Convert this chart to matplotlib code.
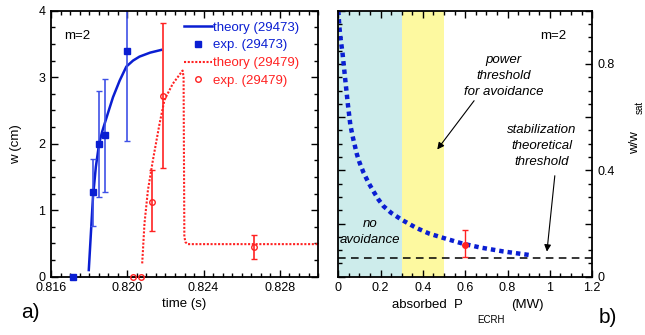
import matplotlib
matplotlib.use("Agg")
import matplotlib.pyplot as plt
from matplotlib.ticker import MultipleLocator, FuncFormatter

plt.rcParams['font.family'] = ['Liberation Sans', 'DejaVu Sans']

BLUE = '#0a1ed2'
RED = '#ff2222'

# panel a) - island width vs time
th_473_t = [0.81798, 0.81810, 0.81820, 0.81835, 0.81852, 0.81868, 0.81882, 0.81905,
            0.81925, 0.81960, 0.81995, 0.82030, 0.82064, 0.82120, 0.82177]
th_473_w = [0.10, 0.70, 1.20, 1.65, 2.00, 2.18, 2.31, 2.52, 2.70, 2.95, 3.16, 3.25,
            3.31, 3.37, 3.41]
exp_473_t = [0.81713, 0.81821, 0.81850, 0.81882, 0.82000]
exp_473_w = [0.0, 1.27, 2.00, 2.13, 3.40]
exp_473_lo = [0.0, 0.77, 1.20, 1.27, 2.04]
exp_473_hi = [0.0, 1.77, 2.79, 2.97, 4.76]

th_479_t = [0.82078, 0.82090, 0.82108, 0.82134, 0.82169, 0.82195, 0.82238, 0.82290,
            0.82295, 0.82299, 0.82305, 0.82316, 0.82400, 0.82600, 0.82800, 0.83000]
th_479_w = [0.20, 0.80, 1.30, 1.75, 2.30, 2.66, 2.90, 3.10, 3.00, 0.60, 0.52, 0.49,
            0.49, 0.49, 0.49, 0.49]
exp_479_t = [0.82030, 0.82073, 0.82130, 0.82186, 0.82664]
exp_479_w = [0.0, 0.0, 1.13, 2.72, 0.45]
exp_479_lo = [0.0, 0.0, 0.68, 1.63, 0.27]
exp_479_hi = [0.0, 0.0, 1.60, 3.82, 0.63]

# panel b) - normalized width vs absorbed ECRH power
p_ecrh = [0.0, 0.005, 0.01, 0.02, 0.033, 0.045, 0.057, 0.07, 0.088, 0.10, 0.12, 0.145,
          0.167, 0.19, 0.214, 0.25, 0.30, 0.37, 0.43, 0.50, 0.59, 0.67, 0.78, 0.90]
w_norm = [1.0, 0.94, 0.90, 0.84, 0.74, 0.65, 0.57, 0.52, 0.46, 0.43, 0.39, 0.35,
          0.32, 0.29, 0.265, 0.24, 0.214, 0.183, 0.162, 0.145, 0.124, 0.11, 0.095, 0.082]
exp_p = [0.6]
exp_w = [0.12]
exp_w_lo = [0.073]
exp_w_hi = [0.174]
stab_threshold = 0.072
no_avoid = (0.0, 0.30)
power_thr = (0.30, 0.50)

W, H = 645.0, 335.0
fig = plt.figure(figsize=(6.45, 3.35), dpi=100)
ax1 = fig.add_axes([0.0791, 0.174, 0.414, 0.794])
ax2 = fig.add_axes([0.5245, 0.174, 0.3935, 0.794])

# ---- a)
ax1.plot(th_473_t, th_473_w, color=BLUE, lw=1.8, label='theory (29473)')
ax1.errorbar(exp_473_t, exp_473_w,
             yerr=[[w - l for w, l in zip(exp_473_w, exp_473_lo)],
                   [h - w for w, h in zip(exp_473_w, exp_473_hi)]],
             fmt='none', ecolor='#3f52e6', elinewidth=1.2, capsize=2, capthick=1)
ax1.plot(exp_473_t, exp_473_w, 's', color=BLUE, ms=5, ls='none', clip_on=False,
         zorder=5, label='exp. (29473)')
ax1.plot(th_479_t, th_479_w, color=RED, lw=1.5, ls=(0, (1, 0.8)), label='theory (29479)')
ax1.errorbar(exp_479_t, exp_479_w,
             yerr=[[w - l for w, l in zip(exp_479_w, exp_479_lo)],
                   [h - w for w, h in zip(exp_479_w, exp_479_hi)]],
             fmt='none', ecolor=RED, elinewidth=1.2, capsize=2, capthick=1)
ax1.plot(exp_479_t, exp_479_w, 'o', color=RED, mfc='none', mew=1, ms=4, ls='none',
         clip_on=False, zorder=5, label='exp. (29479)')

ax1.set_xlim(0.816, 0.830)
ax1.set_ylim(0, 4)
ax1.xaxis.set_major_locator(MultipleLocator(0.004))
ax1.xaxis.set_minor_locator(MultipleLocator(0.0005))
ax1.yaxis.set_major_locator(MultipleLocator(1))
ax1.yaxis.set_minor_locator(MultipleLocator(0.25))
ax1.xaxis.set_major_formatter(FuncFormatter(lambda v, p: f'{v:.3f}'))
ax1.set_xlabel('time (s)', fontsize=9.5, labelpad=3)
ax1.set_ylabel('w (cm)', fontsize=9.5, labelpad=12)
ax1.text(0.05, 0.905, 'm=2', transform=ax1.transAxes, fontsize=9.5, va='center')
ax1.legend(loc='upper right', bbox_to_anchor=(0.93, 0.96), frameon=False, fontsize=9.5,
           labelcolor='linecolor', handlelength=2.1, handletextpad=0.1,
           labelspacing=0.42, borderaxespad=0, borderpad=0)

# ---- b)
ax2.axvspan(*no_avoid, color='#cdeceb', lw=0)
ax2.axvspan(*power_thr, color='#fdf9a0', lw=0)
ax2.axhline(stab_threshold, color='black', lw=1.1, ls=(0, (5, 3.5)))
ax2.plot(p_ecrh, w_norm, color=BLUE, lw=3.2, ls=(0, (1, 0.9)), dash_capstyle='butt')
ax2.errorbar(exp_p, exp_w,
             yerr=[[w - l for w, l in zip(exp_w, exp_w_lo)],
                   [h - w for w, h in zip(exp_w, exp_w_hi)]],
             fmt='o', color=RED, ms=4, elinewidth=1, capsize=2, capthick=1, zorder=5)

ax2.set_xlim(0, 1.2)
ax2.set_ylim(0, 1.0)
ax2.xaxis.set_major_locator(MultipleLocator(0.2))
ax2.xaxis.set_minor_locator(MultipleLocator(0.05))
ax2.yaxis.set_major_locator(MultipleLocator(0.2))
ax2.yaxis.set_minor_locator(MultipleLocator(0.05))
ax2.xaxis.set_major_formatter(FuncFormatter(lambda v, p: f'{v:g}'))
ax2.yaxis.set_major_formatter(
    FuncFormatter(lambda v, p: f'{v:g}' if round(v / 0.4, 3) % 1 == 0 and v < 0.95 else ''))
ax2.yaxis.tick_right()

# axis titles of panel b), pieced together so the subscripts sit low as in the original
fig.text(463 / W, 1 - 305 / H, 'absorbed  P', fontsize=9.5, ha='right', va='center')
fig.text(477 / W, 1 - 320 / H, 'ECRH', fontsize=7, ha='left', va='center')
fig.text(511 / W, 1 - 305 / H, '(MW)', fontsize=9.5, ha='left', va='center')
fig.text(635 / W, 1 - 143 / H, 'w/w', fontsize=9.5, rotation=90, ha='center', va='center')
fig.text(640 / W, 1 - 107 / H, 'sat', fontsize=7, rotation=90, ha='center', va='center')

ax2.text(0.90, 0.905, 'm=2', transform=ax2.transAxes, fontsize=9.5, va='center', ha='right')
ax2.text(0.78, 0.755, 'power\nthreshold\nfor avoidance', fontsize=9.5, style='italic',
         ha='center', va='center', linespacing=1.45)
ax2.annotate('', xy=(0.46, 0.47), xytext=(0.65, 0.67),
             arrowprops=dict(arrowstyle='-|>', color='black', lw=0.8, mutation_scale=10))
ax2.text(0.962, 0.49, 'stabilization\ntheoretical\nthreshold', fontsize=9.5, style='italic',
         ha='center', va='center', linespacing=1.45)
ax2.annotate('', xy=(0.985, stab_threshold + 0.012), xytext=(1.025, 0.39),
             arrowprops=dict(arrowstyle='-|>', color='black', lw=0.8, mutation_scale=10))
ax2.text(0.15, 0.167, 'no\navoidance', fontsize=9.5, style='italic', ha='center',
         va='center', linespacing=1.45)

for ax in (ax1, ax2):
    ax.tick_params(which='both', direction='in', top=True, bottom=True, left=True,
                   right=True, labelsize=9, width=1, pad=4)
    ax.tick_params(which='major', length=5)
    ax.tick_params(which='minor', length=3)
    for s in ax.spines.values():
        s.set_linewidth(1.3)
ax2.tick_params(labelleft=False, labelright=True)

fig.text(0.033, 0.05, 'a)', fontsize=15)
fig.text(0.928, 0.035, 'b)', fontsize=15)

fig.savefig('out.png', dpi=100)
